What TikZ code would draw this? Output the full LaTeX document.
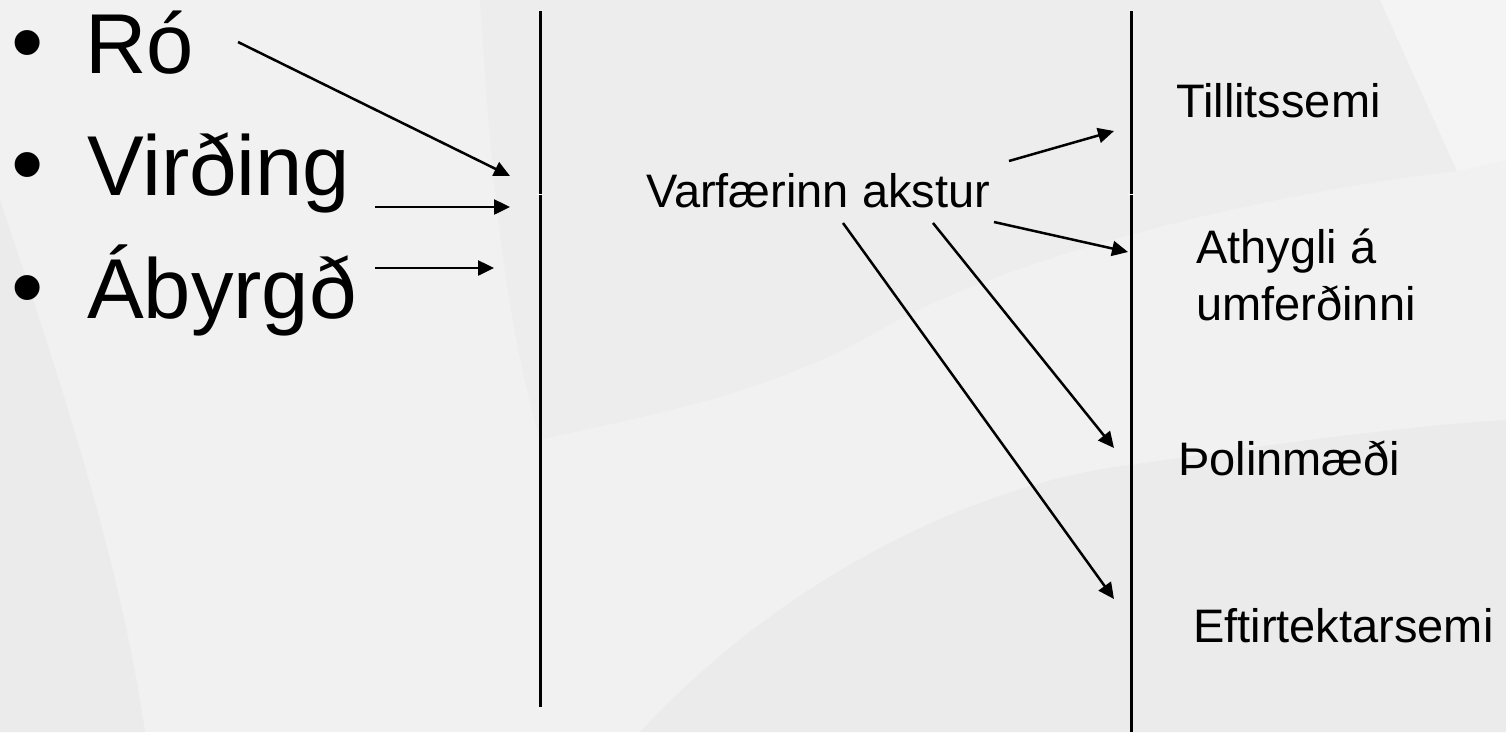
\documentclass[tikz,border=0pt]{standalone}
\usepackage{fontspec}
\setmainfont{Liberation Sans}
\usetikzlibrary{arrows.meta}
\definecolor{bgbase}{HTML}{F1F1F1}
\definecolor{bgdark}{HTML}{EBEBEB}
\definecolor{bgmid}{HTML}{EDEDED}
\definecolor{bglight}{HTML}{F4F4F4}
\begin{document}
\begin{tikzpicture}[x=1pt,y=-1pt,
  bigtext/.style={font=\fontsize{85}{100}\selectfont, inner sep=0pt, anchor=base west},
  bullettext/.style={font=\fontsize{92}{100}\selectfont, inner sep=0pt, anchor=base},
  smalltext/.style={font=\fontsize{47}{57}\selectfont, inner sep=0pt, anchor=base west},
  arr/.style={line width=2.5pt, -{Triangle[length=16pt,width=15pt]}},
  vline/.style={line width=3pt}]
\useasboundingbox (0,0) rectangle (1506,732);
% background
\fill[bgbase] (0,0) rectangle (1506,732);
\fill[bgmid] (480,0) -- (1380,0) -- (1457,171) .. controls (1250,195) and (1000,260) .. (880,330)
  .. controls (760,400) and (620,420) .. (540,440) .. controls (500,300) and (490,150) .. (480,0) -- cycle;
\fill[bglight] (1380,0) -- (1506,0) -- (1506,160) -- (1457,171) -- cycle;
\fill[bgdark] (640,732) .. controls (800,560) and (1000,480) .. (1130,465)
  .. controls (1300,440) and (1420,425) .. (1506,420) -- (1506,732) -- cycle;
\fill[bgdark] (0,200) .. controls (60,380) and (120,560) .. (145,732) -- (0,732) -- cycle;

% vertical lines
\coordinate (v1top) at (540,11);
\coordinate (v1a) at (540,193.5);
\coordinate (v1b) at (540,194.5);
\coordinate (v1bot) at (540,707);
\coordinate (v2top) at (1131,11);
\coordinate (v2a) at (1131,193.5);
\coordinate (v2b) at (1131,194.5);
\coordinate (v2bot) at (1131,732);
\fill[white] (537,193.5) rectangle (543,194.5);
\fill[white] (1128,193.5) rectangle (1134,194.5);
\draw[vline] (v1top) -- (v1a);
\draw[vline] (v1b) -- (v1bot);
\draw[vline] (v2top) -- (v2a);
\draw[vline] (v2b) -- (v2bot);

% left list
\node[bullettext] (b1) at (28,73) {•};
\node[bullettext] (b2) at (28,195) {•};
\node[bullettext] (b3) at (28,318) {•};
\node[bigtext] (ro) at (85,73) {Ró};
\node[bigtext] (virding) at (87,195) {Virðing};
\node[bigtext] (abyrgd) at (87,318) {Ábyrgð};

% centre
\node[smalltext] (varf) at (646,207) {Varfærinn akstur};

% right column
\node[smalltext] (till) at (1176,117) {Tillitssemi};
\node[smalltext, align=left] (athygli) at (1196,320) {Athygli á\\umferðinni};
\node[smalltext] (polin) at (1178,475) {Þolinmæði};
\node[smalltext] (eftir) at (1193,642) {Eftirtektarsemi};

% arrow end points
\coordinate (a1s) at (238,42);
\coordinate (a1e) at (510,176);
\coordinate (a2s) at (375,207);
\coordinate (a2e) at (510,207);
\coordinate (a3s) at (375,268);
\coordinate (a3e) at (494,268);
\coordinate (r1s) at (1009,161);
\coordinate (r1e) at (1114,131);
\coordinate (r2s) at (994,222);
\coordinate (r2e) at (1128,252);
\coordinate (r3s) at (933,223);
\coordinate (r3e) at (1114,448);
\coordinate (r4s) at (843,223);
\coordinate (r4e) at (1114,599);

\draw[arr] (a1s) -- (a1e);
\draw[arr] (a2s) -- (a2e);
\draw[arr] (a3s) -- (a3e);
\draw[arr] (r1s) -- (r1e);
\draw[arr] (r2s) -- (r2e);
\draw[arr] (r3s) -- (r3e);
\draw[arr] (r4s) -- (r4e);
\end{tikzpicture}
\end{document}
